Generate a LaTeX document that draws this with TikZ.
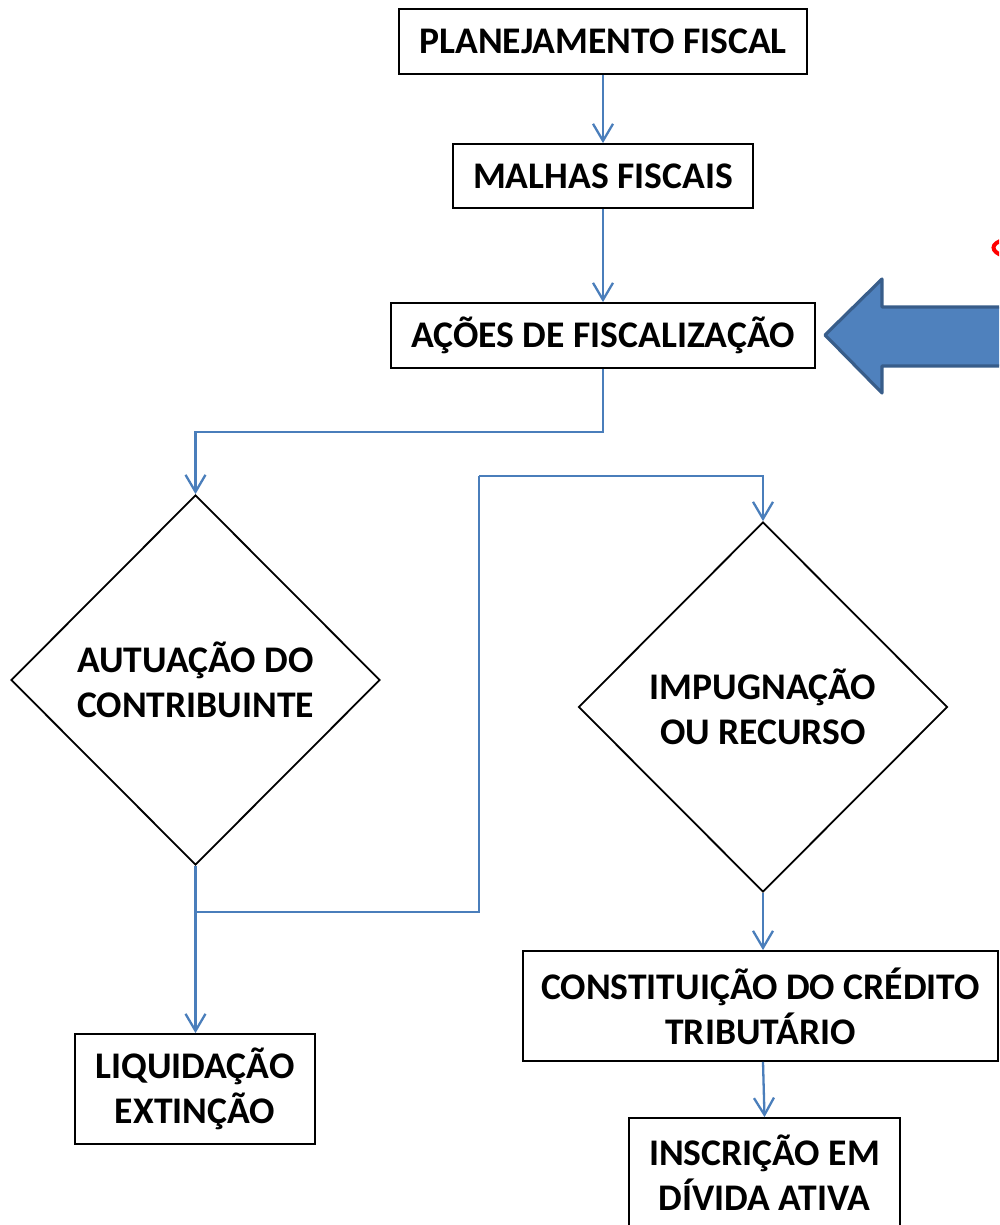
\documentclass[tikz,border=0pt]{standalone}
\usepackage{fontspec}
\setmainfont{Carlito}
\usetikzlibrary{shapes.geometric,arrows.meta}
\definecolor{conn}{HTML}{4A7EBB}
\definecolor{bigfill}{HTML}{4F81BD}
\definecolor{bigdraw}{HTML}{385D8A}
\tikzset{
  txt/.style={font=\fontsize{37.6}{45}\selectfont\bfseries, align=center, inner sep=0pt},
  boxnode/.style={txt, draw=black, line width=1.8pt, rectangle},
  decnode/.style={txt, draw=black, line width=1.8pt, shape=diamond, minimum width=369pt, minimum height=370pt},
  link/.style={draw=conn, line width=2.3pt, -{Straight Barb[length=17pt,width=20pt,line width=2.3pt]}},
  plainlink/.style={draw=conn, line width=2.3pt}
}
\begin{document}
\begin{tikzpicture}[x=1pt,y=-1pt]
\useasboundingbox (0,0) rectangle (999,1225);
\clip (0,0) rectangle (999,1225);
\node[boxnode, minimum width=408pt, minimum height=65pt] (b1) at (603,41.5) {PLANEJAMENTO FISCAL};
\node[boxnode, minimum width=300pt, minimum height=64pt] (b2) at (603,176) {MALHAS FISCAIS};
\node[boxnode, minimum width=424pt, minimum height=65pt] (b3) at (603,335.5) {AÇÕES DE FISCALIZAÇÃO};
\node[decnode] (d1) at (195.5,680) {AUTUAÇÃO DO\\CONTRIBUINTE};
\node[decnode] (d2) at (763,707) {IMPUGNAÇÃO\\OU RECURSO};
\node[boxnode, minimum width=240pt, minimum height=110pt] (liq) at (195,1089) {LIQUIDAÇÃO\\EXTINÇÃO};
\node[boxnode, minimum width=475pt, minimum height=110pt] (cons) at (760.5,1006) {CONSTITUIÇÃO DO CRÉDITO\\TRIBUTÁRIO};
\node[boxnode, minimum width=271pt, minimum height=110pt] (insc) at (764.5,1173) {INSCRIÇÃO EM\\DÍVIDA ATIVA};
\coordinate (k1) at (603,432);
\coordinate (k2) at (195.5,912);
\coordinate (k3) at (479,476);
\draw[link] (b1.south) -- (b2.north);
\draw[link] (b2.south) -- (b3.north);
\draw[link] (b3.south) -- (k1) -| (d1.north);
\draw[link] (d1.south) -- (liq.north -| d1.south);
\draw[plainlink] (k2) -| (k3);
\draw[link] (k3) -| (d2.north);
\draw[link] (d2.south) -- (cons.north -| d2.south);
\draw[link] (cons.south -| d2.south) -- (insc.north);
\draw[fill=bigfill, draw=bigdraw, line width=3.2pt, line join=round]
  (825,335) -- (882,279) -- (882,307) -- (1010,307) -- (1010,366) -- (882,366) -- (882,393) -- cycle;
\draw[red, line width=4pt] (1004,240) .. controls (990,243) and (990,252) .. (1004,256);
\end{tikzpicture}
\end{document}
